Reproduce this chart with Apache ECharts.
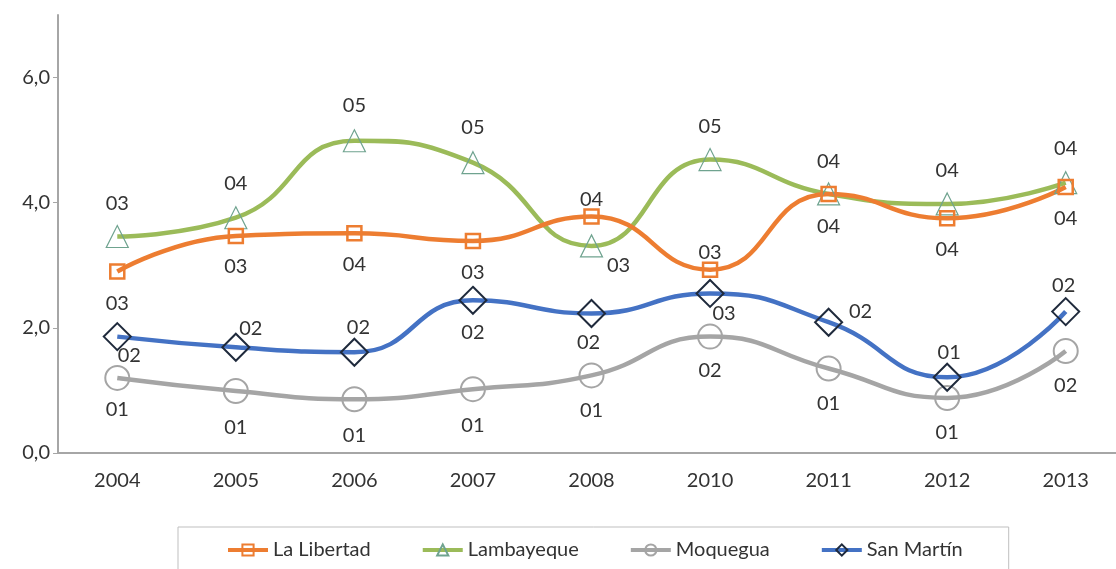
<!DOCTYPE html>
<html>
<head>
<meta charset="utf-8">
<script src="https://cdn.jsdelivr.net/npm/echarts@6/dist/echarts.min.js"></script>
<style>
    html, body {margin: 0; padding: 0; background: #fff; overflow: hidden;}
    #main {width: 1125px; height: 569px;}
</style>
</head>
<body>
<div id="main"></div>
<script>
const years = ['2004', '2005', '2006', '2007', '2008', '2010', '2011', '2012', '2013'];
const yTicks = [0, 2, 4, 6];

const laLibertad = [2.90, 3.47, 3.51, 3.39, 3.78, 2.93, 4.14, 3.75, 4.25];
const lambayeque = [3.46, 3.76, 4.99, 4.64, 3.31, 4.69, 4.14, 3.98, 4.32];
const moquegua = [1.20, 0.99, 0.86, 1.02, 1.24, 1.86, 1.35, 0.88, 1.63];
const sanMartin = [1.86, 1.69, 1.61, 2.44, 2.23, 2.55, 2.09, 1.21, 2.26];

// where each data label sits relative to its marker (px)
const llLabelOff = [[0, 32], [0, 31], [0, 31], [0, 32], [0, -17], [0, -17], [0, 33], [0, 31], [0, 31]];
const lamLabelOff = [[0, -33], [0, -34], [0, -35], [0, -35], [27, 20], [0, -33], [0, -32], [0, -33], [0, -34]];
const moqLabelOff = [[0, 32], [0, 36], [0, 36], [0, 36], [0, 35], [0, 34], [0, 35], [0, 35], [0, 35]];
const smLabelOff = [[12, 19], [15, -19], [4, -25], [0, 32], [-3, 29], [14, 20], [32, -11], [2, -25], [-2, -26]];

const font = 'Lato';
const textColor = '#333';

const withLabels = (values, offsets) => values.map((v, i) => ({
    value: v,
    label: {offset: offsets[i]}
}));

const makeSeries = (name, values, offsets, lineColor, symbol, symbolSize, borderColor, borderWidth) => ({
    name: name,
    type: 'line',
    smooth: 0.5,
    data: withLabels(values, offsets),
    symbol: symbol,
    symbolSize: symbolSize,
    lineStyle: {color: lineColor, width: 4.5},
    itemStyle: {color: 'rgba(255,255,255,0)', borderColor: borderColor, borderWidth: borderWidth},
    label: {
        show: true,
        position: 'inside',
        fontFamily: font,
        fontSize: 20,
        color: textColor,
        formatter: p => '0' + Math.round(p.value)
    },
    emphasis: {disabled: true}
});

const myChart = echarts.init(document.getElementById('main'));
myChart.setOption({
    animation: false,
    grid: {left: 58, right: 0, top: 15, bottom: 116},
    legend: {
        left: 178,
        top: 527,
        padding: [13, 46, 14, 48],
        borderColor: '#bfbfbf',
        borderWidth: 1,
        itemGap: 50,
        itemWidth: 40,
        itemHeight: 14,
        lineStyle: {width: 4},
        textStyle: {fontFamily: font, fontSize: 20, color: textColor},
        data: ['La Libertad', 'Lambayeque', 'Moquegua', 'San Martín']
    },
    xAxis: {
        type: 'category',
        data: years,
        boundaryGap: true,
        axisLine: {lineStyle: {color: '#a6a6a6', width: 2}},
        axisTick: {length: 5, lineStyle: {color: '#a6a6a6'}},
        axisLabel: {fontFamily: font, fontSize: 20, color: textColor, margin: 18}
    },
    yAxis: {
        type: 'value',
        min: 0,
        max: 7,
        interval: 2,
        splitLine: {show: false},
        axisLine: {show: true, lineStyle: {color: '#a6a6a6', width: 2}},
        axisTick: {show: true, length: 5, customValues: yTicks, lineStyle: {color: '#a6a6a6'}},
        axisLabel: {
            customValues: yTicks,
            fontFamily: font,
            fontSize: 20,
            color: textColor,
            margin: 8,
            formatter: v => v.toFixed(1).replace('.', ',')
        }
    },
    series: [
        makeSeries('Moquegua', moquegua, moqLabelOff, '#a5a5a5', 'circle', 24, '#a5a5a5', 2),
        makeSeries('San Martín', sanMartin, smLabelOff, '#4472c4', 'diamond', 27, '#1f2a3c', 2),
        makeSeries('Lambayeque', lambayeque, lamLabelOff, '#9bbb59', 'triangle', 22, '#6fa38f', 1.2),
        makeSeries('La Libertad', laLibertad, llLabelOff, '#ed7d31', 'rect', 14, '#ed7d31', 2.5)
    ]
});
</script>
</body>
</html>
